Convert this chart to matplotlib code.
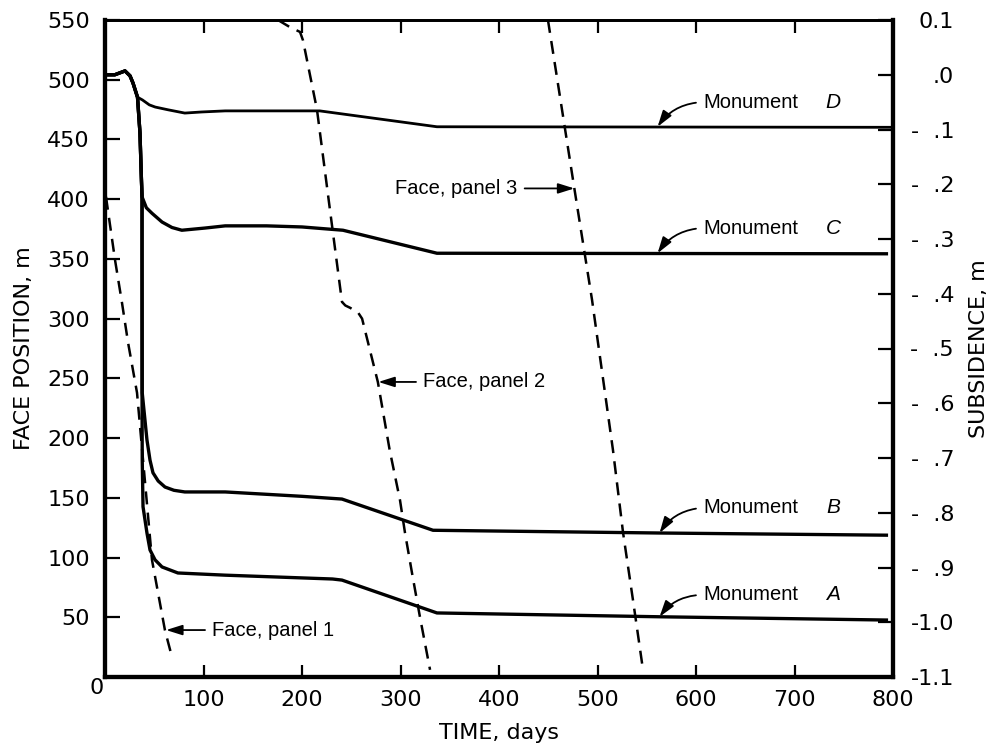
import matplotlib
matplotlib.use("Agg")
import matplotlib.pyplot as plt

# ---- data -------------------------------------------------------------
# Face position (m) versus time (days) for the three panels
face1_days = [1, 10.2, 17.3, 23.4, 32.5, 47.7, 60.9, 68.0]
face1_pos = [402, 349, 313, 280, 238, 98, 39, 16.7]

face2_days = [175.6, 187.8, 198, 201, 215.2, 228.4, 240.6, 244, 249, 257, 261,
              277, 289, 299.5, 304.6, 311.7, 319.8, 330]
face2_pos = [550, 544, 540, 533, 475, 391, 314, 311, 309, 305, 300,
             247, 190, 148, 120.5, 87, 50, 6]

face3_days = [449.7, 476.5, 494.4, 515.7, 526, 536, 546.2]
face3_pos = [550, 409, 316, 190, 120.5, 64.5, 6]

# Subsidence (m) of the monuments versus time (days)
monD_days = [0, 10, 20.3, 25.4, 28.4, 33, 38, 45, 51, 64, 81, 98, 122, 218, 337, 800]
monD_sub = [0.0, 0.0, 0.007, -0.002, -0.015, -0.041, -0.046, -0.055, -0.059,
            -0.064, -0.070, -0.068, -0.066, -0.066, -0.095, -0.096]

monC_days = [0, 10, 20.3, 25.4, 28.4, 33, 35.5, 37, 37.6, 42, 47.7, 57.9, 68, 78,
             101.5, 122, 164, 200, 241.6, 337, 795]
monC_sub = [0.0, 0.0, 0.007, -0.002, -0.015, -0.041, -0.106, -0.192, -0.223,
            -0.243, -0.253, -0.269, -0.279, -0.284, -0.280, -0.276, -0.276,
            -0.278, -0.284, -0.326, -0.327]

monB_days = [0, 10, 20.3, 25.4, 28.4, 33, 35.5, 37, 37.6, 37.6, 37.8, 42.6, 45.7,
             48.7, 54, 60.9, 70, 81, 122, 200, 240.6, 333, 563, 795]
monB_sub = [0.0, 0.0, 0.007, -0.002, -0.015, -0.041, -0.106, -0.192, -0.223,
            -0.323, -0.581, -0.667, -0.704, -0.727, -0.742, -0.753, -0.759,
            -0.762, -0.762, -0.770, -0.775, -0.832, -0.837, -0.841]

monA_days = [0, 10, 20.3, 25.4, 28.4, 33, 35.5, 37, 37.6, 37.6, 37.8, 38.6, 42.6,
             45.7, 50.8, 57.9, 74, 122, 231, 240.6, 337, 563, 795]
monA_sub = [0.0, 0.0, 0.007, -0.002, -0.015, -0.041, -0.106, -0.192, -0.223,
            -0.581, -0.704, -0.789, -0.837, -0.868, -0.886, -0.899, -0.910,
            -0.914, -0.921, -0.923, -0.983, -0.990, -0.996]

# Axis ticks and labels
time_ticks = [100, 200, 300, 400, 500, 600, 700, 800]
pos_ticks = [50, 100, 150, 200, 250, 300, 350, 400, 450, 500, 550]
sub_ticks = [0.1, 0.0, -0.1, -0.2, -0.3, -0.4, -0.5, -0.6, -0.7, -0.8, -0.9, -1.0, -1.1]
sub_labels = ["0.1", ".0", "-  .1", "-  .2", "-  .3", "-  .4", "-  .5", "-  .6",
              "-  .7", "-  .8", "-  .9", "-1.0", "-1.1"]

# ---- figure -----------------------------------------------------------
W, H = 994, 749
fig = plt.figure(figsize=(W / 100, H / 100), dpi=100)
L, R, T, B = 105, 893, 20, 677
ax = fig.add_axes([L / W, 1 - B / H, (R - L) / W, (B - T) / H])
ax2 = ax.twinx()

ax.set_xlim(0, 800)
ax.set_ylim(0, 550)
ax2.set_ylim(-1.1, 0.1)

tick_font = dict(family="DejaVu Sans", size=16)
label_font = dict(family="DejaVu Sans", size=16)
note_font = dict(family="Liberation Sans", size=14.5)

# face positions (dashed)
dash_kw = dict(color="black", lw=1.8, dashes=(5.2, 3.3), solid_capstyle="butt")
ax.plot(face1_days, face1_pos, **dash_kw)
ax.plot(face2_days, face2_pos, **dash_kw)
ax.plot(face3_days, face3_pos, **dash_kw)

# monument subsidence (solid)
mon_kw = dict(color="black", lw=2.4, solid_joinstyle="round", solid_capstyle="butt")
ax2.plot(monD_days, monD_sub, **{**mon_kw, "lw": 2.0})
ax2.plot(monC_days, monC_sub, **mon_kw)
ax2.plot(monB_days, monB_sub, **mon_kw)
ax2.plot(monA_days, monA_sub, **mon_kw)

# ---- axes styling -----------------------------------------------------
for sp in ("left", "bottom", "right"):
    ax.spines[sp].set_linewidth(3.0)
    ax2.spines[sp].set_linewidth(3.0)
ax.spines["top"].set_linewidth(2.0)
ax2.spines["top"].set_linewidth(2.0)

ax.set_xticks(time_ticks)
ax.set_xticklabels([str(t) for t in time_ticks], **tick_font)
ax.set_yticks(pos_ticks)
ax.set_yticklabels([str(p) for p in pos_ticks], **tick_font)
ax.tick_params(axis="x", direction="in", length=9, width=1.6, top=True, pad=9)
ax.tick_params(axis="y", direction="in", length=11, width=1.6, right=False, pad=11)

ax2.set_yticks(sub_ticks)
ax2.set_yticklabels(sub_labels, **tick_font)
ax2.tick_params(axis="y", direction="in", length=11, width=1.6, pad=44, left=False)
for lbl in ax2.get_yticklabels():
    lbl.set_horizontalalignment("right")

# origin label shared by both axes
ax.annotate("0", xy=(0, 0), xytext=(-6, -8), textcoords="offset points",
            ha="center", va="center", **tick_font)

ax.set_xlabel("TIME, days", **label_font)
ax.xaxis.set_label_coords(0.5, -(723 - B) / (B - T))
ax.set_ylabel("FACE POSITION, m", **label_font)
ax.yaxis.set_label_coords((34 - L) / (R - L), 0.5)
ax2.set_ylabel("SUBSIDENCE, m", **label_font)
ax2.yaxis.set_label_coords((969 - L) / (R - L), 0.5)

# ---- annotations ------------------------------------------------------
arrow_kw = dict(arrowstyle="-|>,head_length=0.7,head_width=0.22", color="black",
                lw=1.3, shrinkA=3, shrinkB=0, mutation_scale=14)

monuments = [("D", 561, -0.095, -0.050),
             ("C", 561, -0.326, -0.280),
             ("B", 563, -0.837, -0.791),
             ("A", 563, -0.990, -0.950)]
for letter, tip_day, tip_sub, text_sub in monuments:
    ax2.annotate("Monument", xy=(tip_day, tip_sub), xytext=(607, text_sub),
                 ha="left", va="center", **note_font,
                 arrowprops=dict(**arrow_kw, relpos=(0, 0.5),
                                 connectionstyle="arc3,rad=0.25"))
    ax2.text(739, text_sub, letter, ha="center", va="center",
             family="Liberation Sans", style="italic", size=15)

ax.annotate("Face, panel 1", xy=(62, 39.3), xytext=(108.6, 39.3),
            ha="left", va="center", **note_font,
            arrowprops=dict(**arrow_kw, relpos=(0, 0.5)))
ax.annotate("Face, panel 2", xy=(277.5, 247), xytext=(322.8, 247),
            ha="left", va="center", **note_font,
            arrowprops=dict(**arrow_kw, relpos=(0, 0.5)))
ax.annotate("Face, panel 3", xy=(476.5, 409), xytext=(419, 409),
            ha="right", va="center", **note_font,
            arrowprops=dict(**arrow_kw, relpos=(1, 0.5)))

fig.savefig("out.png", dpi=100)
